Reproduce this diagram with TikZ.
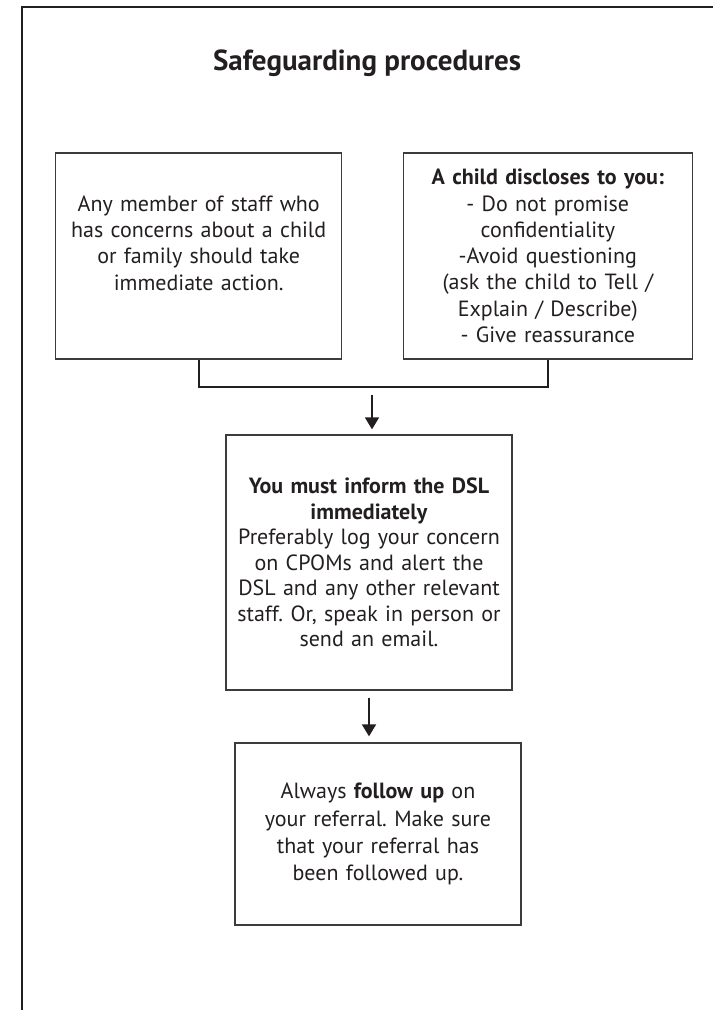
\documentclass[tikz,border=0pt]{standalone}
\usepackage{fontspec}
\setmainfont{PT Sans}
\usetikzlibrary{arrows.meta,positioning}
\definecolor{inkgray}{HTML}{231F20}
\definecolor{boxgray}{HTML}{3C3C3C}
\frenchspacing

\begin{document}
\begin{tikzpicture}[
  x=1pt, y=-1pt,
  box/.style={
    rectangle, draw=boxgray, line width=1.3pt,
    minimum width=286pt, text width=282pt, inner sep=0pt,
    align=center, text=inkgray,
    font=\fontsize{22}{26.3}\selectfont
  },
  link/.style={draw=inkgray, line width=1.8pt},
  arrow/.style={link, -{Triangle[width=14pt,length=12pt]}},
  frame/.style={draw=inkgray, line width=2.6pt}
]
\useasboundingbox (0,0) rectangle (713,1010);

% Page frame
\draw[frame] (22,1010) -- (22,7) -- (713,7);

% Title
\node[font=\fontsize{29}{34}\selectfont\bfseries, text=inkgray] (title) at (367,63) {Safeguarding procedures};

% Row 1: two starting points
\node[box, minimum height=206pt] (staff) at (198.7,256)
  {Any member of staff who\\has concerns about a child\\or family should take\\immediate action.\\\mbox{}};
\node[box, minimum width=289pt, minimum height=206pt, right=60.3pt of staff] (disclose)
  {\textbf{A child discloses to you:}\\- Do not promise\\confidentiality\\-Avoid questioning\\(ask the child to Tell /\\Explain / Describe)\\- Give reassurance};

% Row 2: inform the DSL
\node[box, minimum height=255pt, font=\fontsize{22}{25.5}\selectfont] (inform) at (369,562.5)
  {\textbf{You must inform the DSL}\\\textbf{immediately}\\Preferably log your concern\\on CPOMs and alert the\\DSL and any other relevant\\staff. Or, speak in person or\\send an email.};

% Row 3: follow up
\node[box, minimum height=182pt, font=\fontsize{22}{27.2}\selectfont] (follow) at (378,834)
  {Always \textbf{follow up} on\\your referral. Make sure\\that your referral has\\been followed up.};

% Connectors
\coordinate (join) at (372,387);
\draw[link] (staff.south) |- (join) -| (disclose.south);
\draw[arrow, shorten <=8pt, shorten >=5pt] (join) -- (join |- inform.north);
\draw[arrow, shorten <=7pt, shorten >=6pt] (inform.south) -- (inform.south |- follow.north);

\end{tikzpicture}
\end{document}
